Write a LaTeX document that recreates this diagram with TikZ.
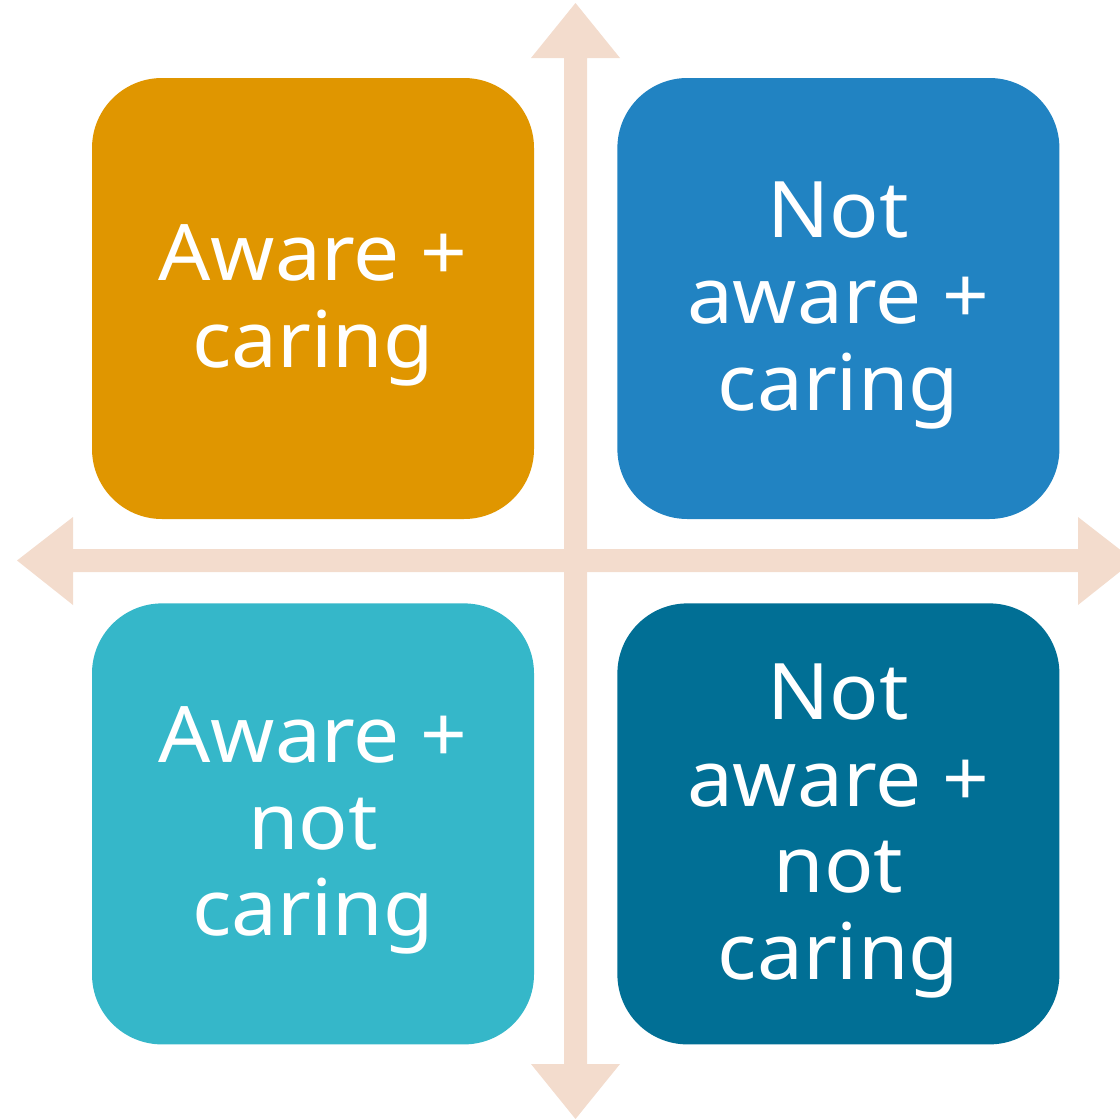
\documentclass[tikz,border=0pt]{standalone}
\usepackage{fontspec}
\setmainfont{Noto Sans}[FakeStretch=1.05]
\usepackage{tikz}
\usetikzlibrary{positioning, calc}
\definecolor{quadorange}{HTML}{E09600}
\definecolor{quadblue}{HTML}{2183C2}
\definecolor{quadcyan}{HTML}{35B7C9}
\definecolor{quadteal}{HTML}{016F95}
\definecolor{axispeach}{HTML}{F3DCCD}

\begin{document}
\begin{tikzpicture}[x=1pt, y=-1pt,
  quadbox/.style={rounded corners=70pt, minimum width=442pt, minimum height=441pt,
    inner sep=0pt, text=white, align=center, font=\fontsize{78}{86.5}\selectfont,
    text depth=5pt}]
  \useasboundingbox (0,0) rectangle (1120,1119);

  % Axes
  \coordinate (origin) at (575.5,560.5);
  \fill[axispeach] (564,58) -- (531,58) -- (575.5,3) -- (620,58) -- (587,58)
    -- (587,1064) -- (620,1064) -- (575.5,1119) -- (531,1064) -- (564,1064) -- cycle;
  \fill[axispeach] (73,549) -- (73,517) -- (17,560.5) -- (73,605) -- (73,572)
    -- (1078,572) -- (1078,605) -- (1134,560.5) -- (1078,517) -- (1078,549) -- cycle;

  % Quadrants
  \node[quadbox, fill=quadorange] (awarecaring) at (313,298.5) {Aware +\\caring};
  \node[quadbox, fill=quadblue, right=83pt of awarecaring] (notawarecaring) {Not\\aware +\\caring};
  \node[quadbox, fill=quadcyan, below=84pt of awarecaring] (awarenotcaring) {Aware +\\not\\caring};
  \node[quadbox, fill=quadteal, right=83pt of awarenotcaring] (notawarenotcaring) {Not\\aware +\\not\\caring};
\end{tikzpicture}
\end{document}
